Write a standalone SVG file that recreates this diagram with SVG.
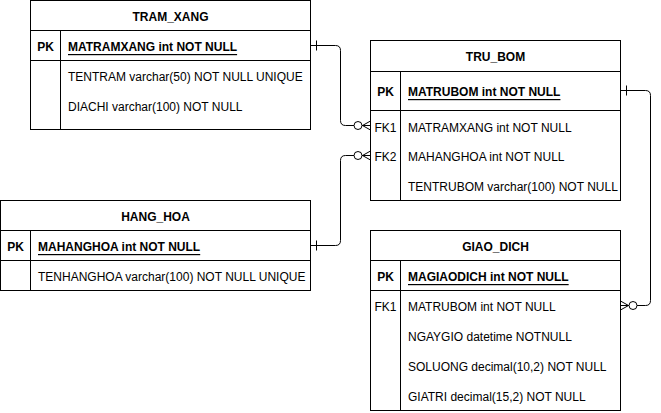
<svg xmlns="http://www.w3.org/2000/svg" width="661" height="413" viewBox="0 0 661 413">
<style>
.box{fill:#fff;stroke:#000;stroke-width:1}
.ln{stroke:#000;stroke-width:1;fill:none}
.t{font-family:"Liberation Sans",Arial,sans-serif;font-size:12px;fill:#000;dominant-baseline:central}
.b{font-weight:bold}
.u{text-decoration:underline}
.c{text-anchor:middle}
.circ{fill:#fff;stroke:#000;stroke-width:1}
</style>
<rect width="661" height="413" fill="#fff"/>
<g id="connectors">
  <path class="ln" d="M310.5,45.5 H335.5 Q340.5,45.5 340.5,50.5 V120.5 Q340.5,125.5 345.5,125.5 H370.5"/>
  <path class="ln" d="M316.5,40.5 V50.5"/>
  <circle class="circ" cx="358" cy="125.5" r="4"/>
  <path class="ln" d="M370.5,121 L362.5,125.5 L370.5,130 M362.5,125.5 H370.5"/>

  <path class="ln" d="M310.5,245.5 H335.5 Q340.5,245.5 340.5,240.5 V160.5 Q340.5,155.5 345.5,155.5 H370.5"/>
  <path class="ln" d="M316.5,240.5 V250.5"/>
  <circle class="circ" cx="358" cy="155.5" r="4"/>
  <path class="ln" d="M370.5,151 L362.5,155.5 L370.5,160 M362.5,155.5 H370.5"/>

  <path class="ln" d="M620.5,90.5 H645.5 Q650.5,90.5 650.5,95.5 V300.5 Q650.5,305.5 645.5,305.5 H620.5"/>
  <path class="ln" d="M626.5,85.5 V95.5"/>
  <circle class="circ" cx="633" cy="305.5" r="4"/>
  <path class="ln" d="M620.5,301 L628.5,305.5 L620.5,310 M628.5,305.5 H620.5"/>
</g>
<g id="TRAM_XANG">
  <rect class="box" x="30.5" y="0.5" width="280" height="129"/>
  <path class="ln" d="M30.5,30.5 H310.5 M30.5,60.5 H310.5 M60.5,30.5 V129.5"/>
  <text class="t b c" x="170.5" y="17">TRAM_XANG</text>
  <text class="t b c" x="45.5" y="47">PK</text>
  <text class="t b u" x="68" y="47">MATRAMXANG int NOT NULL</text>
  <text class="t" x="68" y="77">TENTRAM varchar(50) NOT NULL UNIQUE</text>
  <text class="t" x="68" y="107">DIACHI varchar(100) NOT NULL</text>
</g>
<g id="TRU_BOM">
  <rect class="box" x="370.5" y="40.5" width="250" height="160"/>
  <path class="ln" d="M370.5,71.5 H620.5 M370.5,110.5 H620.5 M400.5,71.5 V200.5"/>
  <text class="t b c" x="495.5" y="57">TRU_BOM</text>
  <text class="t b c" x="385.5" y="92">PK</text>
  <text class="t b u" x="408" y="92">MATRUBOM int NOT NULL</text>
  <text class="t c" x="385.5" y="128">FK1</text>
  <text class="t" x="408" y="128">MATRAMXANG int NOT NULL</text>
  <text class="t c" x="385.5" y="157">FK2</text>
  <text class="t" x="408" y="157">MAHANGHOA int NOT NULL</text>
  <text class="t" x="408" y="187">TENTRUBOM varchar(100) NOT NULL</text>
</g>
<g id="HANG_HOA">
  <rect class="box" x="0.5" y="200.5" width="310" height="90"/>
  <path class="ln" d="M0.5,230.5 H310.5 M0.5,260.5 H310.5 M30.5,230.5 V290.5"/>
  <text class="t b c" x="155.5" y="217">HANG_HOA</text>
  <text class="t b c" x="15.5" y="247">PK</text>
  <text class="t b u" x="38" y="247">MAHANGHOA int NOT NULL</text>
  <text class="t" x="38" y="277">TENHANGHOA varchar(100) NOT NULL UNIQUE</text>
</g>
<g id="GIAO_DICH">
  <rect class="box" x="370.5" y="230.5" width="250" height="180"/>
  <path class="ln" d="M370.5,260.5 H620.5 M370.5,290.5 H620.5 M400.5,260.5 V410.5"/>
  <text class="t b c" x="495.5" y="247">GIAO_DICH</text>
  <text class="t b c" x="385.5" y="277">PK</text>
  <text class="t b u" x="408" y="277">MAGIAODICH int NOT NULL</text>
  <text class="t c" x="385.5" y="307">FK1</text>
  <text class="t" x="408" y="307">MATRUBOM int NOT NULL</text>
  <text class="t" x="408" y="337">NGAYGIO datetime NOTNULL</text>
  <text class="t" x="408" y="367">SOLUONG decimal(10,2) NOT NULL</text>
  <text class="t" x="408" y="397">GIATRI decimal(15,2) NOT NULL</text>
</g>
</svg>
